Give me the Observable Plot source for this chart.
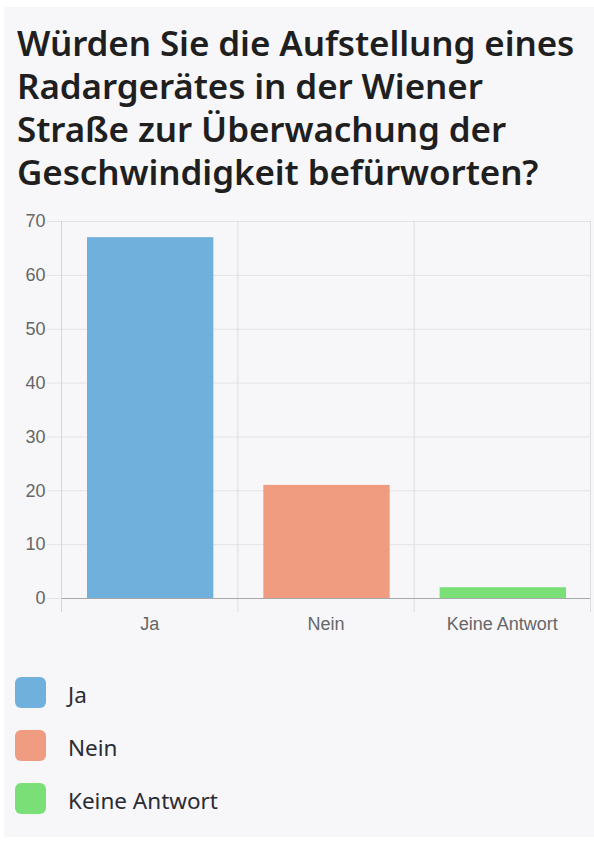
<!DOCTYPE html>
<html><head><meta charset="utf-8">
<script src="https://cdn.jsdelivr.net/npm/d3@7"></script>
<script src="https://cdn.jsdelivr.net/npm/@observablehq/plot@0.6"></script>
<style>
html,body{margin:0;padding:0;background:#fff;}
body{width:594px;height:847px;position:relative;overflow:hidden;font-family:"Noto Sans",sans-serif;}
#panel{position:absolute;left:4px;top:7px;width:590px;height:830px;background:#f7f7fa;}
#title{position:absolute;left:13px;top:14px;margin:0;font-size:35px;line-height:43px;font-weight:600;color:#1f1f1f;width:578px;letter-spacing:-0.1px;}
#chart{position:absolute;left:-4px;top:186px;}
#legend{position:absolute;left:11px;top:670px;}
.item{display:flex;align-items:center;height:31px;margin-bottom:22px;}
.sw{width:31px;height:31px;border-radius:6px;margin-right:22px;}
.lab{font-size:22.5px;color:#2b2b33;position:relative;top:2px;}
</style></head>
<body>
<div id="panel">
<h1 id="title">Würden Sie die Aufstellung eines Radargerätes in der Wiener Straße zur Überwachung der Geschwindigkeit befürworten?</h1>
<div id="chart"></div>
<div id="legend"></div>
</div>
<script>
const categories = ["Ja", "Nein", "Keine Antwort"];
const values = [67, 21, 2];
const yTicks = [0, 10, 20, 30, 40, 50, 60, 70];
const palette = ["#6fb0dc", "#ef9c81", "#7adf77"];

const data = categories.map((c, i) => ({category: c, index: i, value: values[i]}));
const bounds = d3.range(categories.length + 1);
const centers = categories.map((c, i) => i + 0.5);

const plot = Plot.plot({
  width: 594,
  height: 460,
  marginTop: 28,
  marginBottom: 55,
  marginLeft: 61,
  marginRight: 4,
  style: {background: "transparent", fontFamily: "Liberation Sans, Arial, sans-serif", fontSize: "18px", color: "#666"},
  x: {type: "linear", domain: [0, categories.length], axis: null},
  y: {domain: [0, 70], axis: null},
  color: {domain: categories, range: palette},
  marks: [
    Plot.ruleY(yTicks, {stroke: "#e3e3e6", strokeWidth: 1, insetLeft: -14}),
    Plot.ruleX(bounds, {stroke: "#dcdcdf", strokeWidth: 1, insetBottom: -14}),
    Plot.rectY(data, {x1: "index", x2: d => d.index + 1, y1: 0, y2: "value", fill: "category", insetLeft: 26, insetRight: 24}),
    Plot.ruleY([0], {stroke: "#a8a8ab", strokeWidth: 1}),
    Plot.ruleX([0], {stroke: "#d6d6d9", strokeWidth: 1, insetBottom: -14}),
    Plot.axisY({ticks: yTicks, label: null, tickSize: 0, tickPadding: 16, fill: "#666", fontSize: 18}),
    Plot.axisX({ticks: centers, label: null, tickSize: 0, tickPadding: 19, tickFormat: d => categories[Math.floor(d)], fill: "#666", fontSize: 18})
  ]
});
document.getElementById("chart").appendChild(plot);

const color = plot.scale("color");
const legend = d3.select("#legend");
categories.forEach(c => {
  const it = legend.append("div").attr("class", "item");
  it.append("div").attr("class", "sw").style("background", color.apply(c));
  it.append("div").attr("class", "lab").text(c);
});
</script>
</body></html>
